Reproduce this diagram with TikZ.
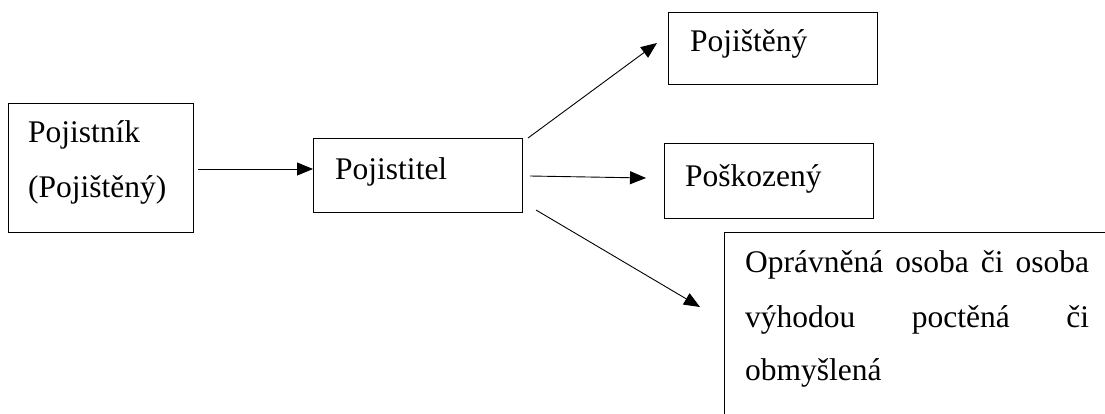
\documentclass[tikz,border=0pt]{standalone}
\usepackage{fontspec}
\setmainfont{Liberation Serif}
\usetikzlibrary{arrows.meta}
\begin{document}
\begin{tikzpicture}[x=1pt,y=-1pt,
  box/.style={draw, line width=1pt, inner sep=0pt, anchor=north west},
  txt/.style={anchor=base west, inner sep=0pt, font=\fontsize{31.5}{38}\selectfont},
  arr/.style={line width=0.9pt, -{Triangle[length=16pt,width=13pt]}}]
\useasboundingbox (0,0) rectangle (1105,414);
% boxes
\node[box, minimum width=185pt, minimum height=129pt] (b1) at (8,103) {};
\node[box, minimum width=209pt, minimum height=74pt] (b2) at (313,138) {};
\node[box, minimum width=209pt, minimum height=72pt] (b3) at (668,12) {};
\node[box, minimum width=209pt, minimum height=75pt] (b4) at (664,143) {};
\node[box, minimum width=400pt, minimum height=200pt] (b5) at (724,232) {};
% texts
\node[txt] (t1a) at (28,143) {Pojistník};
\node[txt] (t1b) at (28,197) {(Pojištěný)};
\node[txt] (t2) at (335,179) {Pojistitel};
\node[txt] (t3) at (690,52) {Pojištěný};
\node[txt] (t4) at (685,187) {Poškozený};
\node[txt] (t5a) at (745,272) {\makebox[344pt][s]{Oprávněná osoba či osoba}};
\node[txt] (t5b) at (745,327) {\makebox[344pt][l]{výhodou\hfill poctěná\hfill či}};
\node[txt] (t5c) at (745,380) {obmyšlená};
% connectors
\coordinate (a1s) at (198,169);
\coordinate (a2s) at (528,138);
\coordinate (a2e) at (657,43);
\coordinate (a3s) at (530,176);
\coordinate (a3e) at (646,178);
\coordinate (a4s) at (536,210);
\coordinate (a4e) at (700,307);
\draw[arr] (a1s) -- (b2.west |- a1s);
\draw[arr] (a2s) -- (a2e);
\draw[arr] (a3s) -- (a3e);
\draw[arr] (a4s) -- (a4e);
\end{tikzpicture}
\end{document}
